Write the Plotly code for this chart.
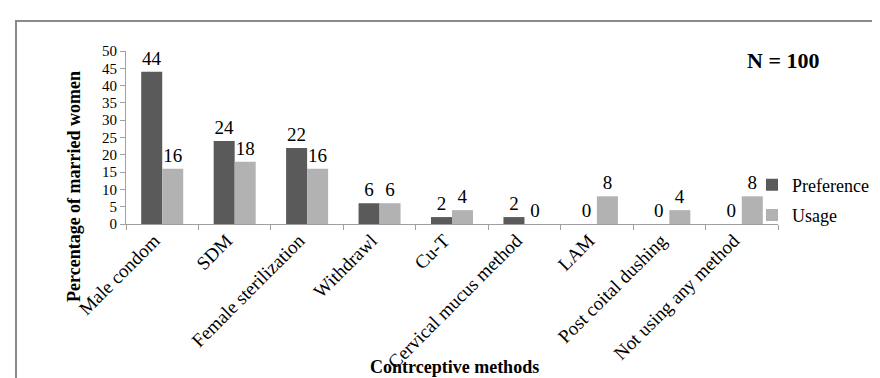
import plotly.graph_objects as go

categories = ["Male condom", "SDM", "Female sterilization", "Withdrawl", "Cu-T",
              "Cervical mucus method", "LAM", "Post coital dushing", "Not using any method"]
preference = [44, 24, 22, 6, 2, 2, 0, 0, 0]
usage = [16, 18, 16, 6, 4, 0, 8, 4, 8]
y_ticks = [0, 5, 10, 15, 20, 25, 30, 35, 40, 45, 50]

FONT = "Liberation Serif, Times New Roman, serif"

fig = go.Figure()
fig.add_trace(go.Bar(x=categories, y=preference, name="Preference",
                     marker=dict(color="#5a5a5a", line=dict(width=0)),
                     text=[str(v) for v in preference], textposition="outside",
                     textfont=dict(family=FONT, size=19, color="black"),
                     cliponaxis=False, legendgroup="a"))
fig.add_trace(go.Bar(x=categories, y=usage, name="Usage",
                     marker=dict(color="#b2b2b2", line=dict(width=0)),
                     text=[str(v) for v in usage], textposition="outside",
                     textfont=dict(family=FONT, size=19, color="black"),
                     cliponaxis=False, legendgroup="b"))

L, R, T, B = 118, 110, 43, 162
W, H = 880, 378
pw, ph = W - L - R, H - T - B

def px_x(p):
    return (p - L) / pw

def px_y(p):
    return (H - B - p) / ph

fig.update_layout(
    width=W, height=H,
    margin=dict(l=L, r=R, t=T, b=B, autoexpand=False),
    plot_bgcolor="white", paper_bgcolor="white",
    barmode="group", bargap=0.42, bargroupgap=0,
    font=dict(family=FONT, size=16, color="black"),
    uniformtext=dict(minsize=19, mode="show"),
    legend=dict(x=px_x(744), y=px_y(192), xanchor="left", yanchor="middle",
                font=dict(family=FONT, size=18, color="black"),
                tracegroupgap=4, itemwidth=30, bgcolor="rgba(0,0,0,0)"),
    showlegend=True,
    xaxis=dict(showline=True, linecolor="#a0a0a0", linewidth=1,
               ticks="outside", tickson="boundaries", ticklen=5, tickcolor="#a0a0a0",
               tickangle=-45, tickfont=dict(family=FONT, size=19, color="black"),
               ticklabelshift=-8, ticklabelstandoff=-3,
               showgrid=False, zeroline=False, fixedrange=True),
    yaxis=dict(range=[0, 50], tickvals=y_ticks, showline=True, linecolor="#a0a0a0",
               linewidth=1, ticks="outside", ticklen=5, tickcolor="#a0a0a0",
               tickfont=dict(family=FONT, size=15, color="black"),
               showgrid=False, zeroline=False, fixedrange=True),
)

fig.add_annotation(text="<b>Percentage of married women</b>", textangle=-90,
                   xref="paper", yref="paper", x=px_x(66), y=px_y(179),
                   xanchor="center", yanchor="middle",
                   showarrow=False, font=dict(family=FONT, size=18, color="black"))
fig.add_annotation(text="<b>Contrceptive methods</b>",
                   xref="paper", yref="paper", x=px_x(446), y=px_y(359),
                   xanchor="center", yanchor="middle",
                   showarrow=False, font=dict(family=FONT, size=18, color="black"))
fig.add_annotation(text="<b>N = 100</b>",
                   xref="paper", yref="paper", x=px_x(775), y=px_y(53),
                   xanchor="center", yanchor="middle",
                   showarrow=False, font=dict(family=FONT, size=22, color="black"))

fig.add_shape(type="rect", xref="paper", yref="paper",
              x0=px_x(8), x1=px_x(890), y0=px_y(390), y1=px_y(13),
              line=dict(color="#8a8a8a", width=2), fillcolor="rgba(0,0,0,0)", layer="below")

fig.write_html("out.html")
